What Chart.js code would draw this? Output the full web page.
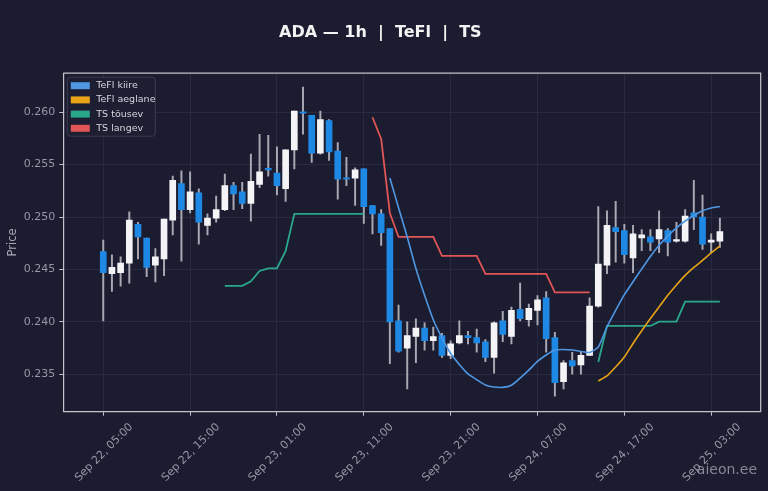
<!DOCTYPE html>
<html>
<head>
<meta charset="utf-8">
<script src="https://cdn.jsdelivr.net/npm/chart.js@4.4.0/dist/chart.umd.min.js"></script>
<style>
  html, body { margin: 0; padding: 0; background: #1c1c30; }
  canvas { display: block; }
</style>
</head>
<body>
<canvas id="chart" width="768" height="491"></canvas>
<script>
// hourly candles, index 0 = Sep 22 05:00
const tickHours = [0, 10, 20, 30, 40, 50, 60, 70];
const tickLabels = ['Sep 22, 05:00', 'Sep 22, 15:00', 'Sep 23, 01:00', 'Sep 23, 11:00',
  'Sep 23, 21:00', 'Sep 24, 07:00', 'Sep 24, 17:00', 'Sep 25, 03:00'];
const yTicks = [0.235, 0.240, 0.245, 0.250, 0.255, 0.260];

const opens = [0.2467, 0.2446, 0.2447, 0.2456, 0.2493, 0.2480, 0.2454, 0.2460, 0.2497, 0.2532,
  0.2507, 0.2523, 0.2492, 0.2499, 0.2507, 0.2530, 0.2524, 0.2513, 0.2531, 0.2546,
  0.2542, 0.2527, 0.2564, 0.2600, 0.2597, 0.2561, 0.2592, 0.2563, 0.2537, 0.2537,
  0.2546, 0.2511, 0.2503, 0.2489, 0.2401, 0.2375, 0.2386, 0.2394, 0.2382, 0.2387,
  0.2368, 0.2380, 0.2387, 0.2385, 0.2381, 0.2366, 0.2401, 0.2386, 0.2412, 0.2402,
  0.2411, 0.2423, 0.2385, 0.2343, 0.2363, 0.2359, 0.2368, 0.2415, 0.2454, 0.2490,
  0.2487, 0.2461, 0.2480, 0.2481, 0.2479, 0.2487, 0.2477, 0.2477, 0.2504, 0.2500,
  0.2476, 0.2477];
const highs = [0.2478, 0.2464, 0.2462, 0.2505, 0.2495, 0.2480, 0.2470, 0.2498, 0.2539, 0.2544,
  0.2543, 0.2527, 0.2503, 0.2520, 0.2541, 0.2533, 0.2533, 0.2560, 0.2579, 0.2578,
  0.2567, 0.2564, 0.2601, 0.2624, 0.2597, 0.2601, 0.2593, 0.2571, 0.2557, 0.2547,
  0.2546, 0.2511, 0.2507, 0.2489, 0.2416, 0.2400, 0.2403, 0.2399, 0.2395, 0.2389,
  0.2382, 0.2401, 0.2391, 0.2393, 0.2383, 0.2400, 0.2410, 0.2414, 0.2437, 0.2417,
  0.2425, 0.2429, 0.2390, 0.2363, 0.2371, 0.2372, 0.2423, 0.2510, 0.2506, 0.2515,
  0.2493, 0.2492, 0.2488, 0.2488, 0.2506, 0.2489, 0.2495, 0.2507, 0.2535, 0.2521,
  0.2484, 0.2499];
const lows = [0.2401, 0.2429, 0.2434, 0.2437, 0.2460, 0.2443, 0.2438, 0.2444, 0.2483, 0.2458,
  0.2504, 0.2474, 0.2483, 0.2495, 0.2506, 0.2507, 0.2508, 0.2496, 0.2528, 0.2539,
  0.2521, 0.2515, 0.2546, 0.2579, 0.2552, 0.2560, 0.2554, 0.2517, 0.2530, 0.2511,
  0.2494, 0.2484, 0.2473, 0.2360, 0.2371, 0.2336, 0.2361, 0.2373, 0.2373, 0.2366,
  0.2365, 0.2379, 0.2379, 0.2371, 0.2362, 0.2351, 0.2381, 0.2379, 0.2401, 0.2396,
  0.2397, 0.2371, 0.2329, 0.2336, 0.2350, 0.2350, 0.2368, 0.2414, 0.2446, 0.2457,
  0.2456, 0.2447, 0.2468, 0.2468, 0.2466, 0.2463, 0.2476, 0.2476, 0.2488, 0.2469,
  0.2466, 0.2471];
const closes = [0.2447, 0.2452, 0.2456, 0.2497, 0.2481, 0.2452, 0.2462, 0.2498, 0.2535, 0.2507,
  0.2524, 0.2495, 0.2499, 0.2507, 0.2530, 0.2522, 0.2513, 0.2534, 0.2543, 0.2545,
  0.2530, 0.2564, 0.2601, 0.2599, 0.2561, 0.2593, 0.2562, 0.2536, 0.2536, 0.2545,
  0.2510, 0.2503, 0.2485, 0.2400, 0.2372, 0.2387, 0.2394, 0.2382, 0.2386, 0.2368,
  0.2379, 0.2387, 0.2385, 0.2380, 0.2366, 0.2399, 0.2388, 0.2411, 0.2403, 0.2413,
  0.2421, 0.2384, 0.2342, 0.2361, 0.2358, 0.2368, 0.2415, 0.2455, 0.2492, 0.2486,
  0.2464, 0.2484, 0.2483, 0.2476, 0.2488, 0.2476, 0.2478, 0.2501, 0.2500, 0.2474,
  0.2478, 0.2486];

const kiireStart = 33;
const kiire = [0.25373, 0.25089, 0.24810, 0.24509, 0.24253, 0.24020, 0.23847, 0.23698, 0.23594, 0.23503,
  0.23449, 0.23398, 0.23378, 0.23375, 0.23396, 0.23464, 0.23540, 0.23623, 0.23684, 0.23732,
  0.23737, 0.23732, 0.23718, 0.23708, 0.23760, 0.23951, 0.24109, 0.24259, 0.24383, 0.24505,
  0.24624, 0.24730, 0.24818, 0.24896, 0.24962, 0.25015, 0.25060, 0.25086, 0.25101];

const aeglaneStart = 57;
const aeglane = [0.23436, 0.23484, 0.23570, 0.23665, 0.23794, 0.23915, 0.24032, 0.24143, 0.24253, 0.24352,
  0.24443, 0.24519, 0.24586, 0.24657, 0.24724];

const tousevStart = 14;
const tousev = [0.24343, 0.24343, 0.24343, 0.24386, 0.24486, 0.24511, 0.24511, 0.24677, 0.25030, 0.25030,
  0.25030, 0.25030, 0.25030, 0.25030, 0.25030, 0.25030, 0.25030,
  null, null, null, null, null, null, null, null, null, null, null, null, null,
  null, null, null, null, null, null, null, null, null, null, null, null, null,
  0.23617, 0.23961, 0.23961, 0.23961, 0.23961, 0.23961, 0.23961, 0.24002, 0.24002, 0.24002,
  0.24193, 0.24193, 0.24193, 0.24193, 0.24193];

const langevStart = 31;
const langev = [0.25952, 0.25745, 0.25039, 0.24810, 0.24810, 0.24810, 0.24810, 0.24810, 0.24629, 0.24629,
  0.24629, 0.24629, 0.24629, 0.24457, 0.24457, 0.24457, 0.24457, 0.24457, 0.24457, 0.24457,
  0.24457, 0.24281, 0.24281, 0.24281, 0.24281, 0.24281];

const BG = '#1c1c30';
const UP = '#f4f4f6';
const DOWN = '#1e88e5';
const AXIS = '#c4c4cc';
const GRID = '#272a42';
const TXT = '#a9a9b8';
const TICKTXT = '#9696a8';

const series = (start, vals) => vals.map((v, i) => ({ x: start + i, y: v }));

const bgPlugin = {
  id: 'bg',
  beforeDraw(chart) {
    const c = chart.ctx;
    c.save();
    c.fillStyle = BG;
    c.fillRect(0, 0, chart.width, chart.height);
    c.restore();
  }
};

// top/right spines, legend box inside the plot, watermark
const framePlugin = {
  id: 'frame',
  afterDraw(chart) {
    const c = chart.ctx;
    const a = chart.chartArea;
    c.save();
    c.strokeStyle = AXIS;
    c.lineWidth = 1.2;
    c.beginPath();
    c.moveTo(a.left, a.top);
    c.lineTo(a.right, a.top);
    c.lineTo(a.right, a.bottom);
    c.stroke();

    const items = chart.data.datasets.filter(d => d.type === 'line');
    const x0 = a.left + 4, y0 = a.top + 4, w = 88, h = 59;
    c.fillStyle = 'rgba(30,30,50,0.85)';
    c.strokeStyle = '#3c3c52';
    c.lineWidth = 1;
    c.beginPath();
    c.roundRect(x0, y0, w, h, 3);
    c.fill();
    c.stroke();
    c.font = '9.5px "DejaVu Sans"';
    c.textBaseline = 'middle';
    items.forEach((d, i) => {
      const yc = y0 + 8.5 + i * 14.2;
      c.fillStyle = d.borderColor;
      c.fillRect(x0 + 3.5, yc - 3.5, 19, 7);
      c.fillStyle = '#d6d6de';
      c.fillText(d.label, x0 + 29, yc);
    });

    c.font = '14px "DejaVu Sans"';
    c.fillStyle = 'rgba(170,170,185,0.75)';
    c.textAlign = 'right';
    c.fillText('aieon.ee', 757, 470);
    c.restore();
  }
};

new Chart(document.getElementById('chart'), {
  type: 'bar',
  data: {
    datasets: [
      { type: 'line', label: 'TeFl kiire', data: series(kiireStart, kiire),
        borderColor: '#4f97e3', borderWidth: 1.6, pointRadius: 0, tension: 0.2, order: 0 },
      { type: 'line', label: 'TeFl aeglane', data: series(aeglaneStart, aeglane),
        borderColor: '#e8a317', borderWidth: 1.6, pointRadius: 0, tension: 0.2, order: 0 },
      { type: 'line', label: 'TS tõusev', data: series(tousevStart, tousev),
        borderColor: '#2aa88c', borderWidth: 1.8, pointRadius: 0, spanGaps: false, order: 0 },
      { type: 'line', label: 'TS langev', data: series(langevStart, langev),
        borderColor: '#e05555', borderWidth: 1.8, pointRadius: 0, order: 0 },
      { label: 'body', data: opens.map((o, i) => ({ x: i, y: [o, closes[i]] })),
        backgroundColor: opens.map((o, i) => closes[i] >= o ? UP : DOWN),
        barThickness: 6, grouped: false, minBarLength: 1.5, borderSkipped: false, order: 1 },
      { label: 'wick', data: lows.map((l, i) => ({ x: i, y: [l, highs[i]] })),
        backgroundColor: '#a9a9b4', barThickness: 1.3, grouped: false, order: 2 }
    ]
  },
  options: {
    responsive: false,
    animation: false,
    events: [],
    layout: { padding: { left: 0, right: 7.3, top: 0, bottom: 0 } },
    plugins: {
      legend: { display: false },
      tooltip: { enabled: false },
      title: {
        display: true,
        text: 'ADA — 1h  |  TeFl  |  TS',
        color: '#f2f2f2',
        font: { family: 'DejaVu Sans', size: 16, weight: 'bold' },
        padding: { top: 23, bottom: 31 }
      }
    },
    scales: {
      x: {
        type: 'linear',
        min: -4.6,
        max: 75.7,
        offset: false,
        afterBuildTicks: s => { s.ticks = tickHours.map(v => ({ value: v })); },
        afterFit: s => { s.height = 79.3; },
        ticks: {
          autoSkip: false, minRotation: 45, maxRotation: 45, padding: 5, labelOffset: 28,
          color: TICKTXT, font: { family: 'DejaVu Sans', size: 11 },
          callback: (v, i) => tickLabels[i]
        },
        grid: { color: GRID, tickColor: AXIS, tickLength: 4, offset: false },
        border: { color: AXIS, width: 1.2 }
      },
      y: {
        min: 0.23143,
        max: 0.26372,
        afterBuildTicks: s => { s.ticks = yTicks.map(v => ({ value: v })); },
        afterFit: s => { s.width = 63.3; },
        ticks: {
          padding: 4, color: TICKTXT, font: { family: 'DejaVu Sans', size: 11 },
          callback: v => v.toFixed(3)
        },
        grid: { color: GRID, tickColor: AXIS, tickLength: 4 },
        border: { color: AXIS, width: 1.2 },
        title: {
          display: true, text: 'Price', color: TXT,
          font: { family: 'DejaVu Sans', size: 11.5 },
          padding: { top: 6, bottom: 0 }
        }
      }
    }
  },
  plugins: [bgPlugin, framePlugin]
});
</script>
</body>
</html>
